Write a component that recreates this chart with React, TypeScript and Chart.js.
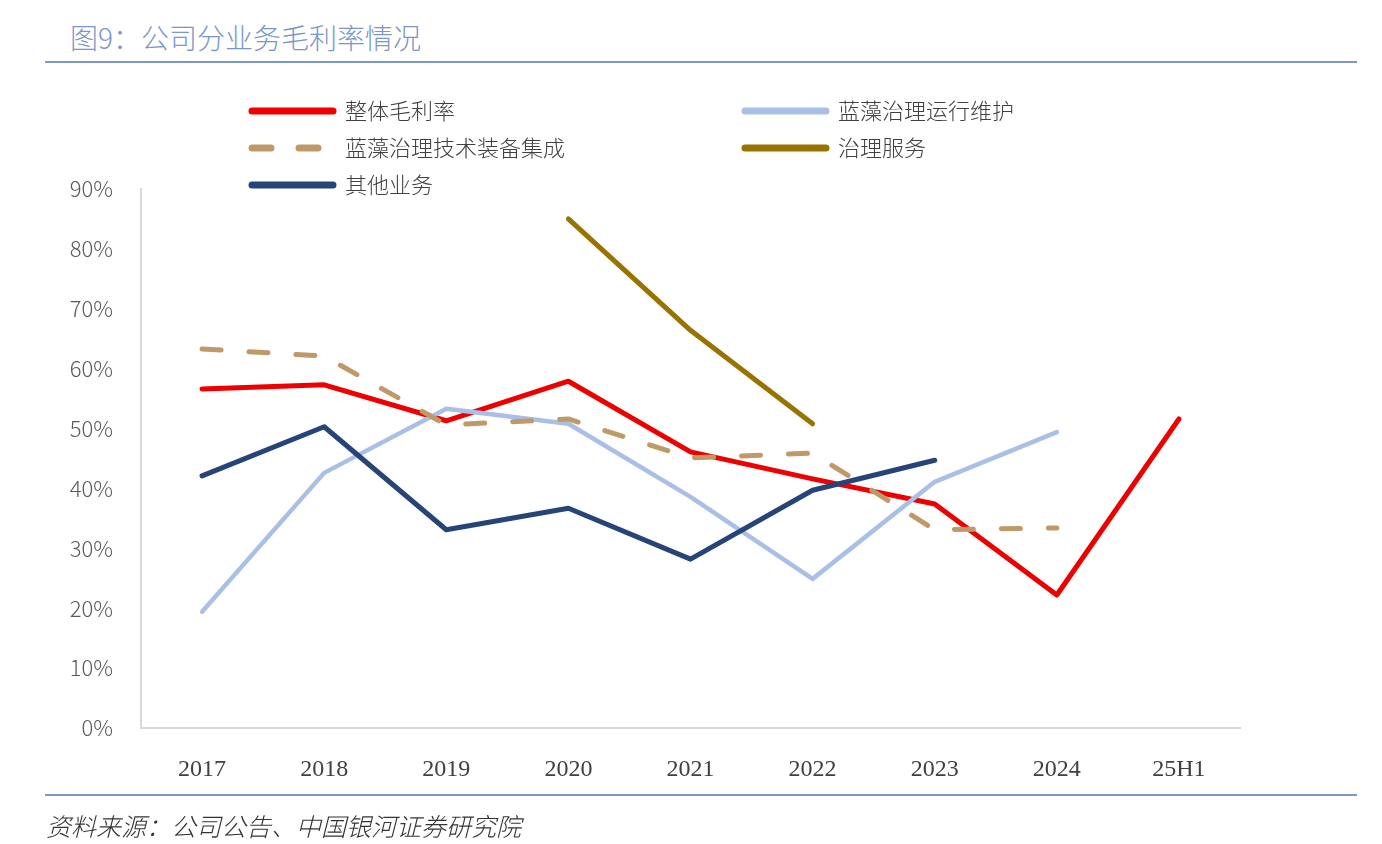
import { useEffect, useRef } from 'react';
import { Chart, registerables } from 'chart.js';

Chart.register(...registerables);

// 横轴类别
const categories = ['2017', '2018', '2019', '2020', '2021', '2022', '2023', '2024', '25H1'];

// 各业务毛利率（%），读图估计
const overallMargin = [56.6, 57.3, 51.3, 57.9, 46.1, 41.6, 37.4, 22.2, 51.6];
const operationMargin = [19.4, 42.6, 53.3, 50.8, 38.6, 24.9, 41.1, 49.4, null];
const equipmentMargin = [63.3, 62.1, 50.6, 51.6, 45.1, 45.9, 33.1, 33.4, null];
const serviceMargin = [null, null, null, 85.0, 66.4, 50.8, null, null, null];
const otherMargin = [42.1, 50.3, 33.1, 36.7, 28.2, 39.7, 44.7, null, null];

const seriesNames = ['整体毛利率', '蓝藻治理运行维护', '蓝藻治理技术装备集成', '治理服务', '其他业务'];
const seriesColors = ['#ee0000', '#a9bfe6', '#bf9a68', '#997300', '#264478'];

const yTicks = [0, 10, 20, 30, 40, 50, 60, 70, 80, 90];

const DASH = [19, 28];

// 图例：两列排布
const legendPlugin = {
  id: 'gridLegend',
  afterDraw(chart: Chart) {
    const ctx = chart.ctx;
    const cols = [249, 742];
    const rows = [111, 148, 185];
    ctx.save();
    chart.data.datasets.forEach((ds: any, i: number) => {
      const x = cols[i % 2];
      const y = rows[Math.floor(i / 2)];
      ctx.beginPath();
      ctx.lineWidth = 7;
      ctx.lineCap = 'round';
      ctx.strokeStyle = ds.borderColor;
      ctx.setLineDash(ds.borderDash && ds.borderDash.length ? DASH : []);
      ctx.moveTo(x + 3, y);
      ctx.lineTo(x + 84, y);
      ctx.stroke();
      ctx.setLineDash([]);
      ctx.fillStyle = '#404040';
      ctx.font = '300 22px "Noto Sans CJK SC", sans-serif';
      ctx.textBaseline = 'middle';
      ctx.textAlign = 'left';
      ctx.fillText(ds.label, x + 96, y);
    });
    ctx.restore();
  },
};

export default function App() {
  const chartRef = useRef<HTMLCanvasElement | null>(null);
  const chartInstance = useRef<Chart | null>(null);

  useEffect(() => {
    const ctx = chartRef.current?.getContext('2d');
    if (!ctx) return;

    if (chartInstance.current) {
      chartInstance.current.destroy();
    }

    const values = [overallMargin, operationMargin, equipmentMargin, serviceMargin, otherMargin];

    chartInstance.current = new Chart(ctx, {
      type: 'line',
      data: {
        labels: categories,
        datasets: values.map((data, i) => ({
          label: seriesNames[i],
          data,
          borderColor: seriesColors[i],
          backgroundColor: seriesColors[i],
          borderWidth: i === 1 ? 4.5 : 5,
          borderDash: i === 2 ? DASH : [],
          borderCapStyle: 'round',
          borderJoinStyle: 'round',
          pointRadius: 0,
          pointHoverRadius: 0,
          tension: 0,
          spanGaps: false,
          order: values.length - i,
        })),
      },
      options: {
        responsive: true,
        maintainAspectRatio: false,
        animation: false,
        layout: { padding: { left: 0, top: 189, right: 142, bottom: 0 } },
        plugins: {
          legend: { display: false },
          tooltip: { enabled: false },
        },
        scales: {
          x: {
            offset: true,
            grid: { display: false, drawTicks: false },
            border: { display: true, color: '#d9d9d9', width: 2 },
            ticks: {
              padding: 27,
              color: '#404040',
              font: { family: '"Liberation Serif", serif', size: 24 },
              maxRotation: 0,
            },
            afterFit: (scale: any) => {
              scale.height = 116;
            },
          },
          y: {
            min: 0,
            max: 90,
            afterBuildTicks: (scale: any) => {
              scale.ticks = yTicks.map((v) => ({ value: v }));
            },
            grid: { display: false, drawTicks: false },
            border: { display: true, color: '#d9d9d9', width: 2 },
            ticks: {
              padding: 28,
              color: '#595959',
              font: { family: '"Noto Sans CJK SC", sans-serif', size: 22, weight: '300' },
              callback: (v: any) => `${v}%`,
            },
            afterFit: (scale: any) => {
              scale.width = 141;
            },
          },
        },
      },
      plugins: [legendPlugin],
    });

    return () => {
      chartInstance.current?.destroy();
      chartInstance.current = null;
    };
  }, []);

  return (
    <div style={{ position: 'absolute', left: 0, top: 0, width: 1382, height: 844, background: '#fff' }}>
      <div
        style={{
          position: 'absolute',
          left: 70,
          top: 17,
          fontFamily: '"Noto Sans CJK SC", sans-serif',
          fontWeight: 300,
          fontSize: 28,
          lineHeight: '40px',
          color: '#7b96c8',
          whiteSpace: 'nowrap',
        }}
      >
        图9：公司分业务毛利率情况
      </div>
      <div style={{ position: 'absolute', left: 45, top: 61, width: 1312, height: 2, background: '#7f97c6' }} />
      <div style={{ position: 'absolute', left: 0, top: 0, width: 1382, height: 844 }}>
        <canvas ref={chartRef}></canvas>
      </div>
      <div style={{ position: 'absolute', left: 45, top: 794, width: 1312, height: 2, background: '#7f97c6' }} />
      <div
        style={{
          position: 'absolute',
          left: 46,
          top: 806,
          fontFamily: '"Noto Sans CJK SC", sans-serif',
          fontWeight: 300,
          fontSize: 25,
          lineHeight: '38px',
          fontStyle: 'italic',
          color: '#333333',
          whiteSpace: 'nowrap',
        }}
      >
        资料来源：公司公告、中国银河证券研究院
      </div>
    </div>
  );
}
